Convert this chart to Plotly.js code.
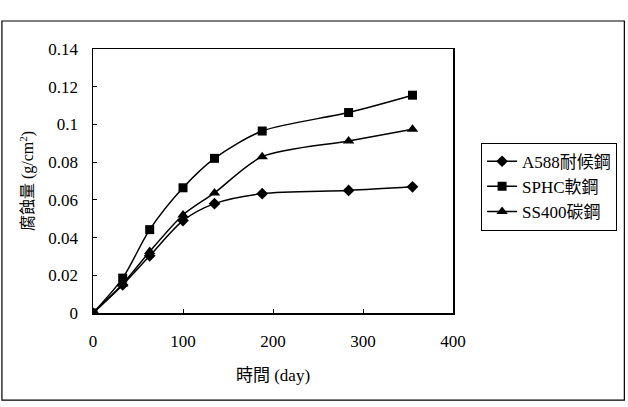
<!DOCTYPE html>
<html>
<head>
<meta charset="utf-8">
<script src="https://cdn.plot.ly/plotly-3.0.1.min.js"></script>
<style>html,body{margin:0;padding:0;background:#fff;}#chart{width:628px;height:407px;}</style>
</head>
<body>
<div id="chart"></div>
<script>
const days = [0, 33, 63, 100, 135, 188, 284, 355];
const a588 = [0, 0.0149, 0.0303, 0.049, 0.058, 0.0633, 0.065, 0.0669];
const sphc = [0, 0.0185, 0.0442, 0.0664, 0.082, 0.0965, 0.1063, 0.1155];
const ss400 = [0, 0.0154, 0.0326, 0.052, 0.0637, 0.0829, 0.0912, 0.0974];
const seriesNames = ['A588耐候鋼', 'SPHC軟鋼', 'SS400碳鋼'];
const xTicks = [0, 100, 200, 300, 400];
const yTicks = [0, 0.02, 0.04, 0.06, 0.08, 0.1, 0.12, 0.14];
const yTickText = ['0', '0.02', '0.04', '0.06', '0.08', '0.1', '0.12', '0.14'];

const FONT = '"Liberation Serif", "Times New Roman", "Noto Sans CJK TC", serif';
function tr(y, name, symbol, size) {
  return {
    x: days, y: y, name: name, type: 'scatter', mode: 'lines+markers',
    line: {color: '#000', width: 1.5, shape: 'spline', smoothing: 0.8},
    marker: {symbol: symbol, size: size, color: '#000'}
  };
}
const data = [
  tr(a588, seriesNames[0], 'diamond', 9),
  tr(sphc, seriesNames[1], 'square', 9),
  tr(ss400, seriesNames[2], 'triangle-up', 10)
];
const layout = {
  width: 628, height: 407,
  margin: {l: 93, r: 174, t: 49, b: 94},
  paper_bgcolor: '#fff', plot_bgcolor: '#fff',
  font: {family: FONT, size: 17, color: '#000'},
  showlegend: true,
  legend: {
    x: 1.075, y: 0.645, xanchor: 'left', yanchor: 'top',
    bordercolor: '#000', borderwidth: 1, bgcolor: '#fff',
    font: {family: FONT, size: 17, color: '#000'},
    tracegroupgap: 0, itemwidth: 30
  },
  xaxis: {
    range: [0, 400], tickvals: xTicks, ticktext: xTicks.map(String),
    ticks: 'inside', ticklen: 4, tickcolor: '#000',
    showline: true, linecolor: '#000', linewidth: 1.5, mirror: true,
    showgrid: false, zeroline: false, ticklabelstandoff: 12,
    title: {text: '時間 (day)', font: {family: FONT, size: 17}, standoff: 19},
    tickfont: {family: FONT, size: 17}
  },
  yaxis: {
    range: [0, 0.14], tickvals: yTicks, ticktext: yTickText,
    ticks: 'inside', ticklen: 4, tickcolor: '#000',
    showline: true, linecolor: '#000', linewidth: 1.5, mirror: true,
    showgrid: false, zeroline: false, ticklabelstandoff: 10,
    title: {text: '腐蝕量 (g/cm<sup>2</sup>)', font: {family: FONT, size: 16}, standoff: 10},
    tickfont: {family: FONT, size: 17}
  },
  shapes: [{
    type: 'rect', xref: 'paper', yref: 'paper',
    x0: -0.253, x1: 1.476, y0: -0.33, y1: 1.106,
    line: {color: '#000', width: 1.2}, fillcolor: 'rgba(0,0,0,0)', layer: 'below'
  }]
};
Plotly.newPlot('chart', data, layout, {displayModeBar: false, staticPlot: true});
</script>
</body>
</html>
